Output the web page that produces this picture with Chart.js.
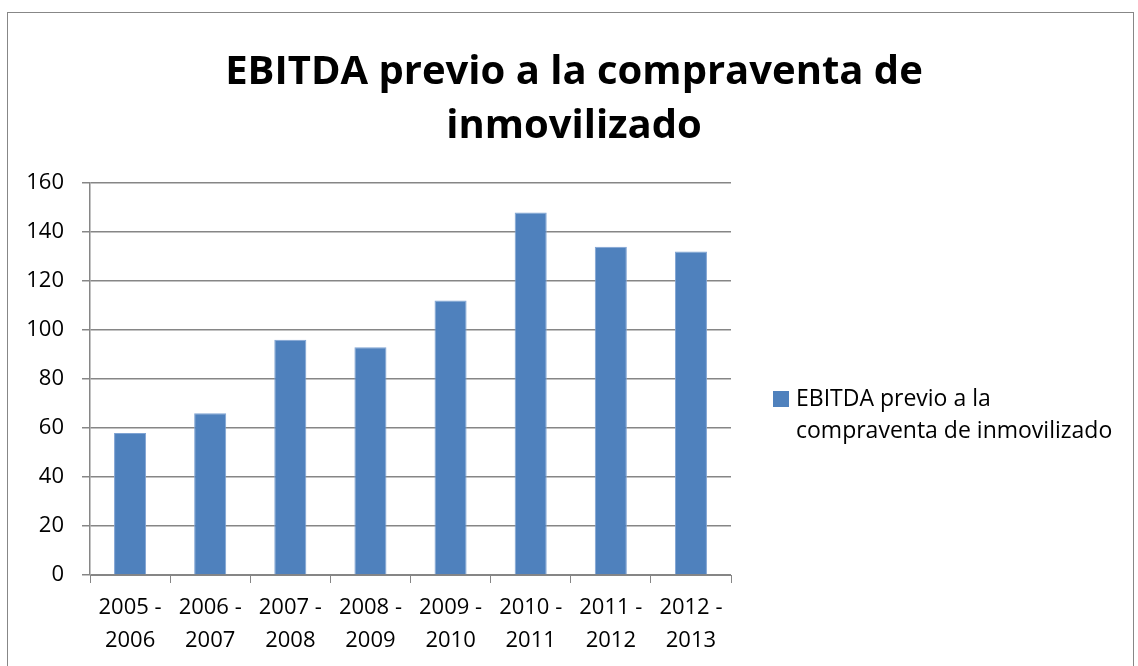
<!doctype html>
<html lang="es">
<head>
    <meta charset="UTF-8">
    <title>EBITDA previo a la compraventa de inmovilizado</title>
    <script src="https://cdn.jsdelivr.net/npm/chart.js"></script>
    <style>
        html, body { margin: 0; padding: 0; background: #fff; }
        .marco {
            position: absolute; left: 7px; top: 12px;
            width: 1127px; height: 680px;
            border: 1px solid #878787;
            box-sizing: border-box;
        }
        .grafico { position: absolute; left: 0; top: 0; width: 1138px; height: 666px; }
    </style>
</head>
<body>
    <div class="marco"></div>
    <div class="grafico">
        <canvas id="grafico1" width="1138" height="666"></canvas>
    </div>

    <script>
        const titulo = ['EBITDA previo a la compraventa de', 'inmovilizado'];
        const serie = 'EBITDA previo a la compraventa de inmovilizado';
        const periodos = [
            ['2005 -', '2006'], ['2006 -', '2007'], ['2007 -', '2008'], ['2008 -', '2009'],
            ['2009 -', '2010'], ['2010 -', '2011'], ['2011 -', '2012'], ['2012 -', '2013']
        ];
        const valores = [58, 66, 96, 93, 112, 148, 134, 132];
        const ejeY = { min: 0, max: 160, paso: 20 };

        const fuente = "'Open Sans', 'Noto Sans', sans-serif";
        const azul = '#4F81BD';

        // titulo centrado sobre todo el marco, no solo sobre el area del grafico
        const cabecera = {
            id: 'cabecera',
            afterDraw(chart) {
                const c = chart.ctx;
                c.save();
                c.fillStyle = '#000';
                c.font = 'bold 40px ' + fuente;
                c.textAlign = 'center';
                c.textBaseline = 'middle';
                titulo.forEach((t, i) => c.fillText(t, chart.width / 2 + 5, 73 + i * 54));
                c.restore();
            }
        };

        // leyenda a la derecha, en dos lineas como en el original
        const leyenda = {
            id: 'leyenda',
            afterDraw(chart) {
                const c = chart.ctx;
                const a = chart.chartArea;
                const x = a.right + 42;
                const y = a.top + 216;
                c.save();
                c.fillStyle = azul;
                c.fillRect(x, y - 8, 16, 16);
                c.fillStyle = '#000';
                c.font = '23px ' + fuente;
                c.textBaseline = 'middle';
                const partes = ['EBITDA previo a la', 'compraventa de inmovilizado'];
                partes.forEach((t, i) => c.fillText(t, x + 23, y + i * 32));
                c.restore();
            }
        };

        const ctx = document.getElementById('grafico1');
        let grafico = new Chart(ctx, {
            type: 'bar',
            data: {
                labels: periodos,
                datasets: [{
                    label: serie,
                    data: valores,
                    backgroundColor: azul,
                    borderColor: '#7FA3D3',
                    borderWidth: { top: 1, left: 1, right: 1, bottom: 0 },
                    barPercentage: 0.4,
                    categoryPercentage: 1
                }]
            },
            options: {
                responsive: false,
                animation: false,
                layout: { padding: { left: 20, right: 407, top: 183, bottom: 8 } },
                plugins: {
                    legend: { display: false },
                    tooltip: { enabled: false },
                    title: { display: false }
                },
                scales: {
                    x: {
                        grid: { drawOnChartArea: false, offset: true, tickLength: 8, color: '#868686' },
                        border: { color: '#868686', width: 1 },
                        ticks: { color: '#000', font: { family: fuente, size: 22, lineHeight: 1.5 }, padding: 8, maxRotation: 0 },
                        afterFit(s) { s.height = 83; }
                    },
                    y: {
                        min: ejeY.min,
                        max: ejeY.max,
                        ticks: { stepSize: ejeY.paso, color: '#000', font: { family: fuente, size: 22 }, padding: 18 },
                        grid: { color: '#868686', lineWidth: 1.5, tickLength: 8 },
                        border: { color: '#868686', width: 1.5 },
                        afterFit(s) { s.width = 70; }
                    }
                }
            },
            plugins: [cabecera, leyenda]
        });
    </script>
</body>
</html>
